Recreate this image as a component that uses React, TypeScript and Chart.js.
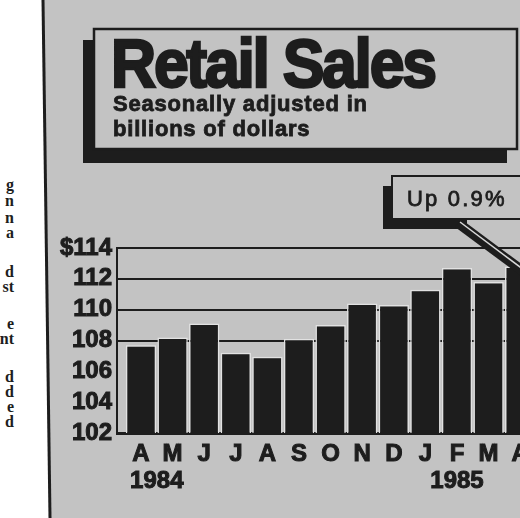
import React, { useEffect, useRef } from "react";
import { Chart, registerables } from "chart.js";

Chart.register(...registerables);

// ---- data ----
const months = ["A", "M", "J", "J", "A", "S", "O", "N", "D", "J", "F", "M", "A"];
const salesBillions = [107.7, 108.2, 109.1, 107.2, 106.95, 108.1, 109.0, 110.4, 110.3, 111.3, 112.7, 111.8, 112.8];
const yTickValues = [102, 104, 106, 108, 110, 112, 114];
const yTickLabels = ["102", "104", "106", "108", "110", "112", "$114"];
const years = ["1984", "1985"];
const yearFirstMonth = [0, 10];
const yearLastMonth = [1, 10];
const titleText = "Retail Sales";
const subtitleLines = ["Seasonally adjusted in", "billions of dollars"];
const calloutText = "Up 0.9%";
const columnFragments = ["g", "n", "n", "a", "d", "st", "e", "nt", "d", "d", "e", "d"];
const columnFragmentCenters = [186, 202, 219, 234, 273, 288, 325, 340, 378, 393, 408, 423];

// ---- styles ----
const INK = "#1d1d1d";
const PAPER = "#c3c3c3";
const SANS = '"Liberation Sans", Arial, Helvetica, sans-serif';

const yearPlugin = {
  id: "yearLabels",
  afterDraw(chart: any) {
    const { ctx, chartArea } = chart;
    const x = chart.scales.x;
    ctx.save();
    ctx.font = `bold 24px ${SANS}`;
    ctx.fillStyle = INK;
    ctx.strokeStyle = INK;
    ctx.lineWidth = 1;
    ctx.textAlign = "center";
    ctx.textBaseline = "middle";
    years.forEach((y, i) => {
      const px = x.getPixelForValue((yearFirstMonth[i] + yearLastMonth[i]) / 2);
      ctx.fillText(y, px, chartArea.bottom + 48);
      ctx.strokeText(y, px, chartArea.bottom + 48);
    });
    ctx.restore();
  },
};

function RetailChart() {
  const ref = useRef<HTMLCanvasElement | null>(null);
  useEffect(() => {
    if (!ref.current) return;
    const chart = new Chart(ref.current, {
      type: "bar",
      data: {
        datasets: [
          {
            data: months.map((_, i) => ({ x: i, y: salesBillions[i] })),
            backgroundColor: INK,
            borderColor: "#e2e2e2",
            borderWidth: { top: 1.5, left: 1.5, right: 1.5, bottom: 0 },
            barPercentage: 0.96,
            categoryPercentage: 1,
          } as any,
        ],
      },
      options: {
        responsive: false,
        animation: false,
        layout: { padding: { top: 248, left: 0, right: 0, bottom: 0 } },
        plugins: {
          legend: { display: false },
          tooltip: { enabled: false },
          title: { display: false },
        },
        scales: {
          x: {
            type: "linear",
            min: -0.76,
            max: 13.26,
            offset: false,
            grid: { display: false, drawTicks: false },
            border: { display: true, color: INK, width: 3 },
            afterBuildTicks: (s: any) => {
              s.ticks = months.map((_, i) => ({ value: i }));
            },
            afterFit: (s: any) => {
              s.height = 85;
            },
            ticks: {
              autoSkip: false,
              maxRotation: 0,
              padding: 7,
              color: INK,
              textStrokeColor: INK,
              textStrokeWidth: 1,
              font: { family: SANS, size: 24, weight: "bold" },
              callback: (v: any) => months[v as number] ?? "",
            },
          },
          y: {
            type: "linear",
            min: 102,
            max: 114,
            afterBuildTicks: (s: any) => {
              s.ticks = yTickValues.map((v) => ({ value: v }));
            },
            afterFit: (s: any) => {
              s.width = 117;
            },
            grid: {
              drawTicks: false,
              lineWidth: 2,
              color: (c: any) => (c.tick && c.tick.value >= 108 ? INK : "rgba(0,0,0,0)"),
            },
            border: { display: true, color: INK, width: 2 },
            ticks: {
              autoSkip: false,
              padding: 5,
              color: INK,
              textStrokeColor: INK,
              textStrokeWidth: 1,
              font: { family: SANS, size: 24, weight: "bold" },
              callback: (v: any) => yTickLabels[yTickValues.indexOf(v as number)] ?? "",
            },
          },
        },
      } as any,
      plugins: [yearPlugin],
    });
    return () => chart.destroy();
  }, []);
  return (
    <canvas
      ref={ref}
      width={560}
      height={518}
      style={{ position: "absolute", left: 0, top: 0, width: 560, height: 518 }}
    />
  );
}

export default function App() {
  return (
    <div
      style={{
        position: "fixed",
        left: 0,
        top: 0,
        width: 520,
        height: 518,
        overflow: "hidden",
        background: "#ffffff",
      }}
    >
      {/* background panel */}
      <svg width={520} height={518} style={{ position: "absolute", left: 0, top: 0 }}>
        <polygon points="44,0 520,0 520,518 51,518" fill={PAPER} />
        <line x1={43} y1={0} x2={50} y2={518} stroke={INK} strokeWidth={3} />
      </svg>

      {/* fragments of neighbouring newspaper column */}
      {columnFragments.map((t, i) => (
        <div
          key={i}
          style={{
            position: "absolute",
            right: 520 - 14,
            top: columnFragmentCenters[i] - 10,
            fontFamily: '"Liberation Serif", "DejaVu Serif", serif',
            fontWeight: 700,
            fontSize: 16,
            lineHeight: "18px",
            color: INK,
            whiteSpace: "nowrap",
          }}
        >
          {t}
        </div>
      ))}

      <RetailChart />

      {/* title box and callout */}
      <svg width={520} height={518} style={{ position: "absolute", left: 0, top: 0 }}>
        <rect x={83} y={40} width={424} height={123} fill={INK} />
        <rect x={94} y={29} width={423} height={120} fill={PAPER} stroke={INK} strokeWidth={2.5} />
        <rect x={383} y={186} width={84} height={43} fill={INK} />
        <rect x={392} y={176} width={150} height={43} fill={PAPER} stroke={INK} strokeWidth={2} />
        <line x1={458} y1={223} x2={524} y2={272} stroke={INK} strokeWidth={10} />
        <line x1={460} y1={222} x2={524} y2={270} stroke="#d8d8d8" strokeWidth={1.5} />
      </svg>

      <div
        style={{
          position: "absolute",
          left: 111,
          top: 29,
          fontFamily: SANS,
          fontWeight: 700,
          fontSize: 68,
          lineHeight: "68px",
          letterSpacing: "-2.5px",
          transform: "scaleX(0.92)",
          transformOrigin: "left top",
          whiteSpace: "nowrap",
          color: INK,
          WebkitTextStroke: `2.5px ${INK}`,
        }}
      >
        {titleText}
      </div>
      <div
        style={{
          position: "absolute",
          left: 113,
          top: 91,
          fontFamily: SANS,
          fontWeight: 700,
          fontSize: 22,
          lineHeight: "25px",
          letterSpacing: "0.8px",
          whiteSpace: "nowrap",
          color: INK,
          WebkitTextStroke: `0.8px ${INK}`,
        }}
      >
        {subtitleLines.map((l, i) => (
          <div key={i}>{l}</div>
        ))}
      </div>
      <div
        style={{
          position: "absolute",
          left: 407,
          top: 188,
          fontFamily: SANS,
          fontWeight: 400,
          fontSize: 22,
          lineHeight: "22px",
          letterSpacing: "2.2px",
          whiteSpace: "nowrap",
          color: INK,
          WebkitTextStroke: `0.8px ${INK}`,
        }}
      >
        {calloutText}
      </div>
    </div>
  );
}
